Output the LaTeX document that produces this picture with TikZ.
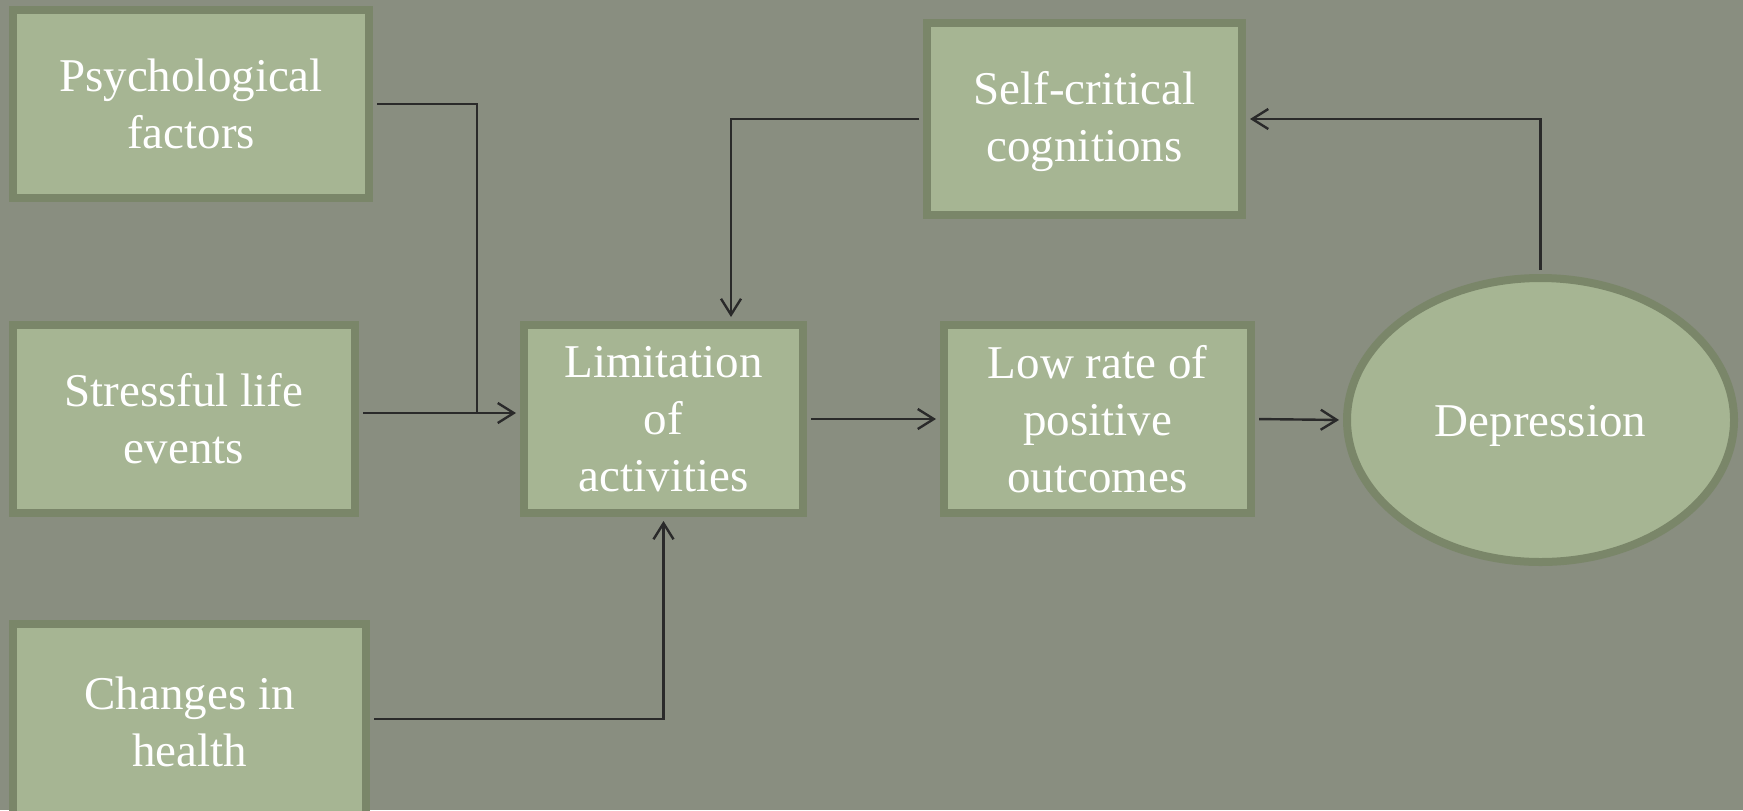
\documentclass[tikz,border=0pt]{standalone}
\usepackage{fontspec}
\setmainfont{Liberation Serif}
\usetikzlibrary{arrows.meta,shapes.geometric,calc}
\definecolor{bg}{HTML}{898E80}
\definecolor{boxfill}{HTML}{A6B593}
\definecolor{boxline}{HTML}{7A8669}
\definecolor{arrowc}{HTML}{2A2A2A}
\newcommand{\lowertxt}[2]{\raisebox{-#1}[\height][\depth]{#2}}
\begin{document}
\begin{tikzpicture}[x=0.5pt,y=-0.5pt,
  box/.style={draw=boxline, fill=boxfill, line width=4pt, text=white, align=center,
    font=\fontsize{23.5}{28.5}\selectfont, inner sep=0pt},
  conn/.style={draw=arrowc, line width=1.2pt, -{Straight Barb[length=8pt,width=10pt]},
    shorten >=2pt, shorten <=2pt},
  plain/.style={draw=arrowc, line width=1.2pt, shorten <=2pt}]
\useasboundingbox (0,0) rectangle (1743,810);
\fill[bg] (0,0) rectangle (1743,810);

\node[box, minimum width=178pt, minimum height=94pt] (psy) at (191,104) {Psychological\\factors};
\node[box, minimum width=171pt, minimum height=94pt] (str) at (184,419) {Stressful life\\events};
\node[box, minimum width=176.5pt, minimum height=98pt] (chg) at (189.5,722) {Changes in\\health};
\node[box, minimum width=139.5pt, minimum height=94pt] (lim) at (663.5,419) {Limitation\\of\\activities};
\node[box, minimum width=153.5pt, minimum height=94pt] (low) at (1097.5,419) {Low rate of\\positive\\outcomes};
\node[box, minimum width=157.5pt, minimum height=96pt] (slf) at (1084.5,119) {\lowertxt{1.5pt}{Self-critical}\\\lowertxt{1.5pt}{cognitions}};
\node[box, ellipse, minimum width=193.5pt, minimum height=142pt] (dep) at (1540.5,420) {\lowertxt{3pt}{Depression}};

\coordinate (j1) at (477,413);
\draw[plain] (psy.east) -| (j1);
\draw[conn] (str.east |- j1) -- (lim.west |- j1);
\draw[conn] ($(chg.east)+(0,-3)$) -| (lim.south);
\draw[conn] (lim.east) -- (low.west);
\draw[conn] (low.east) -- (dep.west);
\draw[conn] (dep.north) |- (slf.east);
\draw[conn] (slf.west) -| ($(lim.north)+(67.5,0)$);
\end{tikzpicture}
\end{document}
